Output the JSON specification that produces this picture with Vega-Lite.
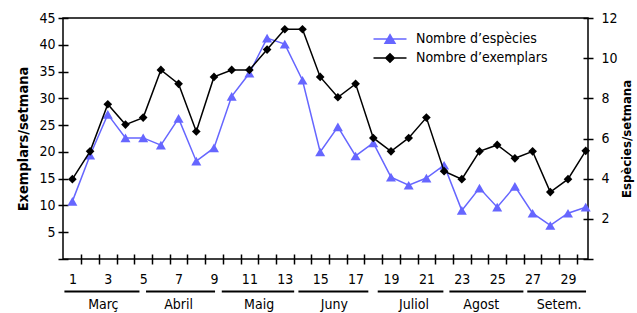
{
  "$schema": "https://vega.github.io/schema/vega-lite/v6.json",
  "width": 525,
  "height": 241,
  "autosize": {"type": "none"},
  "padding": {"left": 63, "top": 18, "right": 49, "bottom": 54},
  "config": {
    "font": "DejaVu Sans Condensed, Liberation Sans Narrow, DejaVu Sans, sans-serif",
    "view": {"stroke": "black", "strokeWidth": 1.5},
    "axis": {"labelColor": "black", "titleColor": "black", "tickColor": "black", "labelFontSize": 14, "tickWidth": 1.5, "grid": false, "tickSize": 10, "offset": -5, "domain": false}
  },
  "datasets": {
    "weeks": [
      {"week": 1, "exemplars": 14.9, "species": 2.87},
      {"week": 2, "exemplars": 20.1, "species": 5.17},
      {"week": 3, "exemplars": 28.9, "species": 7.2},
      {"week": 4, "exemplars": 25.1, "species": 6.03},
      {"week": 5, "exemplars": 26.4, "species": 6.03},
      {"week": 6, "exemplars": 35.3, "species": 5.67},
      {"week": 7, "exemplars": 32.7, "species": 7.0},
      {"week": 8, "exemplars": 23.8, "species": 4.87},
      {"week": 9, "exemplars": 34.0, "species": 5.53},
      {"week": 10, "exemplars": 35.3, "species": 8.1},
      {"week": 11, "exemplars": 35.3, "species": 9.25},
      {"week": 12, "exemplars": 39.1, "species": 11.0},
      {"week": 13, "exemplars": 42.9, "species": 10.7},
      {"week": 14, "exemplars": 42.9, "species": 8.9},
      {"week": 15, "exemplars": 34.0, "species": 5.33},
      {"week": 16, "exemplars": 30.2, "species": 6.58},
      {"week": 17, "exemplars": 32.7, "species": 5.13},
      {"week": 18, "exemplars": 22.6, "species": 5.78},
      {"week": 19, "exemplars": 20.1, "species": 4.08},
      {"week": 20, "exemplars": 22.6, "species": 3.67},
      {"week": 21, "exemplars": 26.4, "species": 4.03},
      {"week": 22, "exemplars": 16.4, "species": 4.67},
      {"week": 23, "exemplars": 14.9, "species": 2.42},
      {"week": 24, "exemplars": 20.1, "species": 3.53},
      {"week": 25, "exemplars": 21.3, "species": 2.58},
      {"week": 26, "exemplars": 18.8, "species": 3.62},
      {"week": 27, "exemplars": 20.1, "species": 2.28},
      {"week": 28, "exemplars": 12.5, "species": 1.67},
      {"week": 29, "exemplars": 14.9, "species": 2.28},
      {"week": 30, "exemplars": 20.2, "species": 2.58}
    ],
    "months": [
      {"month": "Març", "start": 0.55, "end": 4.79, "mid": 2.75},
      {"month": "Abril", "start": 5.16, "end": 9.06, "mid": 7.0},
      {"month": "Maig", "start": 9.44, "end": 13.53, "mid": 11.55},
      {"month": "Juny", "start": 13.77, "end": 17.72, "mid": 15.8},
      {"month": "Juliol", "start": 18.25, "end": 21.96, "mid": 20.3},
      {"month": "Agost", "start": 22.3, "end": 26.48, "mid": 24.1},
      {"month": "Setem.", "start": 26.7, "end": 30.02, "mid": 28.5}
    ]
  },
  "layer": [
    {
      "data": {"name": "weeks"},
      "encoding": {
        "x": {"field": "week", "type": "quantitative", "scale": {"domain": [0.47, 30.13], "nice": false, "zero": false},
          "axis": {"title": null, "values": [0,1,2,3,4,5,6,7,8,9,10,11,12,13,14,15,16,17,18,19,20,21,22,23,24,25,26,27,28,29],
            "tickOffset": 8.85, "labelOffset": -8.85, "labelExpr": "datum.value % 2 === 1 ? datum.label : ''",
            "labelPadding": 8, "labelOverlap": false, "labelFlush": false, "labelBound": false}},
        "y": {"field": "species", "type": "quantitative", "scale": {"domain": [0, 12], "nice": false},
          "axis": {"orient": "right", "title": "Espècies/setmana", "values": [0,2,4,6,8,10,12],
            "labelExpr": "datum.value === 0 ? '' : datum.label", "labelPadding": 8, "labelOverlap": false,
            "titleAngle": -90, "titleBaseline": "top", "titleFontSize": 13, "titleFontWeight": "bold", "titlePadding": 3}}
      },
      "layer": [
        {"mark": {"type": "line", "strokeWidth": 1.5},
          "encoding": {"color": {"datum": "Nombre d’espècies",
            "scale": {"domain": ["Nombre d’espècies", "Nombre d’exemplars"], "range": ["#6666ff", "black"]},
            "legend": {"title": null, "orient": "none", "legendX": 316, "legendY": 10, "symbolSize": 400,
              "labelFontSize": 14, "labelOffset": 15, "rowPadding": 0, "padding": 0, "labelColor": "black",
              "encode": {"symbols": {"update": {
                "shape": {"signal": "datum.value === 'Nombre d’espècies' ? 'M-1.65,0L1.65,0M0,-0.43L0.5,0.43L-0.5,0.43Z' : 'M-1.65,0L1.65,0M-0.43,0L0,-0.43L0.43,0L0,0.43Z'"},
                "fill": {"signal": "datum.value === 'Nombre d’espècies' ? '#6666ff' : 'black'"},
                "stroke": {"signal": "datum.value === 'Nombre d’espècies' ? '#6666ff' : 'black'"},
                "strokeWidth": {"value": 1.5},
                "opacity": {"value": 1}
              }}}}}}},
        {"mark": {"type": "point", "shape": "triangle-up", "filled": true, "size": 100, "color": "#6666ff", "opacity": 1}}
      ]
    },
    {
      "layer": [
        {"data": {"name": "weeks"},
          "mark": {"type": "line", "strokeWidth": 1.5},
          "encoding": {
            "x": {"field": "week", "type": "quantitative", "scale": {"domain": [0.47, 30.13], "nice": false, "zero": false},
              "axis": {"title": null, "values": [0,1,2,3,4,5,6,7,8,9,10,11,12,13,14,15,16,17,18,19,20,21,22,23,24,25,26,27,28,29],
                "tickOffset": 8.85, "labelOffset": -8.85, "labelExpr": "datum.value % 2 === 1 ? datum.label : ''",
                "labelPadding": 8, "labelOverlap": false, "labelFlush": false, "labelBound": false}},
            "y": {"field": "exemplars", "type": "quantitative", "scale": {"domain": [0, 45], "nice": false},
              "axis": {"orient": "left", "title": "Exemplars/setmana", "values": [0,5,10,15,20,25,30,35,40,45],
                "labelExpr": "datum.value === 0 ? '' : datum.label", "labelPadding": 3, "labelOverlap": false,
                "titleFontSize": 14.5, "titleFontWeight": "bold", "titlePadding": 8}},
            "color": {"datum": "Nombre d’exemplars"}
          }},
        {"data": {"name": "weeks"},
          "mark": {"type": "point", "shape": "diamond", "filled": true, "size": 75, "color": "black", "opacity": 1},
          "encoding": {
            "x": {"field": "week", "type": "quantitative", "scale": {"domain": [0.47, 30.13], "nice": false, "zero": false},
              "axis": {"title": null, "values": [0,1,2,3,4,5,6,7,8,9,10,11,12,13,14,15,16,17,18,19,20,21,22,23,24,25,26,27,28,29],
                "tickOffset": 8.85, "labelOffset": -8.85, "labelExpr": "datum.value % 2 === 1 ? datum.label : ''",
                "labelPadding": 8, "labelOverlap": false, "labelFlush": false, "labelBound": false}},
            "y": {"field": "exemplars", "type": "quantitative", "scale": {"domain": [0, 45], "nice": false},
              "axis": {"orient": "left", "title": "Exemplars/setmana", "values": [0,5,10,15,20,25,30,35,40,45],
                "labelExpr": "datum.value === 0 ? '' : datum.label", "labelPadding": 3, "labelOverlap": false,
                "titleFontSize": 14.5, "titleFontWeight": "bold", "titlePadding": 8}}
          }},
        {"data": {"name": "months"},
          "mark": {"type": "rule", "strokeWidth": 2, "color": "black", "clip": false},
          "encoding": {
            "x": {"field": "start", "type": "quantitative", "scale": {"domain": [0.47, 30.13], "nice": false, "zero": false},
              "axis": {"title": null, "values": [0,1,2,3,4,5,6,7,8,9,10,11,12,13,14,15,16,17,18,19,20,21,22,23,24,25,26,27,28,29],
                "tickOffset": 8.85, "labelOffset": -8.85, "labelExpr": "datum.value % 2 === 1 ? datum.label : ''",
                "labelPadding": 8, "labelOverlap": false, "labelFlush": false, "labelBound": false}},
            "x2": {"field": "end"},
            "y": {"datum": -6.05, "type": "quantitative", "scale": {"domain": [0, 45], "nice": false},
              "axis": {"orient": "left", "title": "Exemplars/setmana", "values": [0,5,10,15,20,25,30,35,40,45],
                "labelExpr": "datum.value === 0 ? '' : datum.label", "labelPadding": 3, "labelOverlap": false,
                "titleFontSize": 14.5, "titleFontWeight": "bold", "titlePadding": 8}}
          }},
        {"data": {"name": "months"},
          "mark": {"type": "text", "fontSize": 14, "color": "black", "clip": false},
          "encoding": {
            "x": {"field": "mid", "type": "quantitative", "scale": {"domain": [0.47, 30.13], "nice": false, "zero": false},
              "axis": {"title": null, "values": [0,1,2,3,4,5,6,7,8,9,10,11,12,13,14,15,16,17,18,19,20,21,22,23,24,25,26,27,28,29],
                "tickOffset": 8.85, "labelOffset": -8.85, "labelExpr": "datum.value % 2 === 1 ? datum.label : ''",
                "labelPadding": 8, "labelOverlap": false, "labelFlush": false, "labelBound": false}},
            "y": {"datum": -8.6, "type": "quantitative", "scale": {"domain": [0, 45], "nice": false},
              "axis": {"orient": "left", "title": "Exemplars/setmana", "values": [0,5,10,15,20,25,30,35,40,45],
                "labelExpr": "datum.value === 0 ? '' : datum.label", "labelPadding": 3, "labelOverlap": false,
                "titleFontSize": 14.5, "titleFontWeight": "bold", "titlePadding": 8}},
            "text": {"field": "month"}
          }}
      ]
    }
  ],
  "resolve": {"scale": {"y": "independent"}}
}
